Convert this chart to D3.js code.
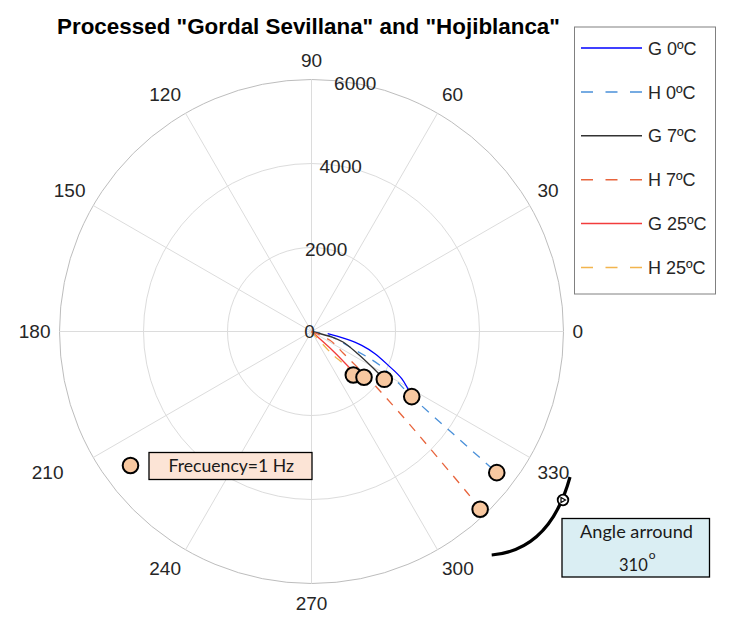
<!DOCTYPE html>
<html>
<head>
<meta charset="utf-8">
<script src="https://cdn.jsdelivr.net/npm/d3@7"></script>
<style>
  html, body { margin: 0; padding: 0; background: #ffffff; }
  svg { display: block; }
</style>
</head>
<body>
<svg id="chart" width="741" height="630"></svg>
<script>
// ---------------- DATA ----------------
const chartTitle = 'Processed "Gordal Sevillana" and "Hojiblanca"';
const thetaTicks = [0, 30, 60, 90, 120, 150, 180, 210, 240, 270, 300, 330];
const rTicks = [0, 2000, 4000, 6000];
const seriesNames = ["G 0ºC", "H 0ºC", "G 7ºC", "H 7ºC", "G 25ºC", "H 25ºC"];
const seriesColors = ["#0000FF", "#4A90D9", "#333333", "#E8643C", "#F23C3C", "#F2B54E"];
const seriesDashed = [false, true, false, true, false, true];

// each series: [angle (deg), magnitude]
const g0 = [[352.3, 389], [347.9, 816], [344.6, 1240], [340.7, 1602], [336.2, 1998], [332.4, 2424], [327.0, 2846]];
const h0 = [[0, 0], [346.3, 453], [337.0, 1125], [333.4, 1869], [327.0, 2846], [324.1, 4186], [322.7, 5545]];
const g7 = [[0, 0], [344.4, 531], [341.6, 791], [334.2, 1230], [329.9, 1638], [326.7, 2074]];
const h7 = [[0, 0], [334.6, 488], [325.6, 918], [320.7, 1698], [318.5, 2343], [316.5, 3262], [315.0, 4271], [314.0, 5338], [313.5, 5833]];
const g25 = [[0, 0], [318.0, 700], [316.2, 1326]];
const h25 = [[0, 0], [312.3, 705], [314.8, 1140], [313.9, 1436]];

// 1 Hz markers
const markerTheta = [313.9, 318.9, 326.7, 327.0, 322.7, 313.5];
const markerR = [1436, 1659, 2074, 2846, 5545, 5833];

const annFreq = "Frecuency=1 Hz";
const annAngle1 = "Angle arround";
const annAngle2 = "310";
// --------------------------------------

const allSeries = [g0, h0, g7, h7, g25, h25];
const svg = d3.select("#chart");
const cx = 311.5, cy = 331.5, R = 252;
const rScale = d3.scaleLinear().domain([0, 6000]).range([0, R]);
const toRad = d => d * Math.PI / 180;
const px = (t, v) => cx + rScale(v) * Math.cos(toRad(t));
const py = (t, v) => cy - rScale(v) * Math.sin(toRad(t));

const FONT = "'Liberation Sans', Arial, Helvetica, sans-serif";
const TXT = "#262626";

// title
svg.append("text")
  .attr("x", 308.5).attr("y", 33.5)
  .attr("text-anchor", "middle")
  .attr("font-family", FONT).attr("font-weight", "bold")
  .attr("font-size", 22.4).attr("fill", "#000")
  .text(chartTitle);

const g = svg.append("g").attr("transform", `translate(${cx},${cy})`);

// rings
g.selectAll("circle.ring").data(rTicks.filter(d => d > 0)).join("circle")
  .attr("class", "ring")
  .attr("r", d => rScale(d))
  .attr("fill", "none")
  .attr("stroke", d => d === 6000 ? "#bdbdbd" : "#dcdcdc")
  .attr("stroke-width", 1);

// spokes
g.selectAll("line.spoke").data(thetaTicks).join("line")
  .attr("class", "spoke")
  .attr("x1", 0).attr("y1", 0)
  .attr("x2", d => rScale(6000) * Math.cos(toRad(d)))
  .attr("y2", d => -rScale(6000) * Math.sin(toRad(d)))
  .attr("stroke", "#dcdcdc").attr("stroke-width", 1);

// theta labels
const Ra = 261, capH = 13.6;
thetaTicks.forEach(t => {
  const c = Math.cos(toRad(t)), s = Math.sin(toRad(t));
  const ax = cx + Ra * c, ay = cy - Ra * s;
  const anchor = c > 0.1 ? "start" : (c < -0.1 ? "end" : "middle");
  let by;
  if (s > 0.1) by = ay - 4;
  else if (s < -0.1) by = ay + 3.6 + capH;
  else by = ay + capH / 2;
  const shift = t === 210 ? -22 : 0;
  svg.append("text")
    .attr("x", ax + shift).attr("y", by)
    .attr("text-anchor", anchor)
    .attr("font-family", FONT).attr("font-size", 19).attr("fill", TXT)
    .text(t);
});

// r labels at 80°
rTicks.forEach(v => {
  svg.append("text")
    .attr("x", px(80, v) - (v === 0 ? 2 : 0)).attr("y", py(80, v) + 6.8)
    .attr("text-anchor", "middle")
    .attr("font-family", FONT).attr("font-size", 19).attr("fill", TXT)
    .text(v);
});

// lines
const line = d3.lineRadial()
  .angle(d => toRad(90 - d[0]))
  .radius(d => rScale(d[1]))
  .curve(d3.curveCatmullRom.alpha(0.5));

allSeries.forEach((s, i) => {
  g.append("path")
    .attr("d", line(s))
    .attr("fill", "none")
    .attr("stroke", seriesColors[i])
    .attr("stroke-width", 1.3)
    .attr("stroke-dasharray", seriesDashed[i] ? "9,8" : null);
});

// markers
const MFILL = "#F8C8A0";
g.selectAll("circle.mk").data(markerTheta.map((t, i) => [t, markerR[i]])).join("circle")
  .attr("class", "mk")
  .attr("cx", d => rScale(d[1]) * Math.cos(toRad(d[0])))
  .attr("cy", d => -rScale(d[1]) * Math.sin(toRad(d[0])))
  .attr("r", 7.8)
  .attr("fill", MFILL).attr("stroke", "#000").attr("stroke-width", 2);

// legend
const lg = svg.append("g");
lg.append("rect").attr("x", 574.5).attr("y", 27).attr("width", 141).attr("height", 267)
  .attr("fill", "#fff").attr("stroke", "#808080").attr("stroke-width", 1);
seriesNames.forEach((n, i) => {
  const y = 48 + i * 43.9;
  lg.append("line").attr("x1", 581).attr("x2", 642).attr("y1", y).attr("y2", y)
    .attr("stroke", seriesColors[i]).attr("stroke-width", 1.5)
    .attr("stroke-dasharray", seriesDashed[i] ? "12,12.5" : null);
  lg.append("text").attr("x", 648).attr("y", y + 6.6)
    .attr("font-family", FONT).attr("font-size", 18).attr("fill", TXT)
    .text(n);
});

// annotation: frequency
const AFONT = "Lato, 'Open Sans', sans-serif";
svg.append("circle").attr("cx", 130.5).attr("cy", 465.5).attr("r", 7.8)
  .attr("fill", MFILL).attr("stroke", "#000").attr("stroke-width", 2);
svg.append("rect").attr("x", 149).attr("y", 452.5).attr("width", 163).attr("height", 27)
  .attr("fill", "#FCE4D6").attr("stroke", "#000").attr("stroke-width", 1.3);
svg.append("text").attr("x", 168.5).attr("y", 472.3)
  .attr("font-family", AFONT).attr("font-size", 16.5).attr("fill", "#1a1a1a")
  .attr("textLength", 125.5).attr("lengthAdjust", "spacingAndGlyphs")
  .text(annFreq);

// annotation: angle arc
svg.append("path")
  .attr("d", "M491.7,555 Q550,550 570,477")
  .attr("fill", "none").attr("stroke", "#000").attr("stroke-width", 3.2);
svg.append("circle").attr("cx", 563).attr("cy", 500).attr("r", 5.3)
  .attr("fill", "#fff").attr("stroke", "#000").attr("stroke-width", 1.8);
svg.append("path").attr("d", "M561,497.5 L565.5,500 L561,502.5 Z")
  .attr("fill", "none").attr("stroke", "#000").attr("stroke-width", 1.2);

svg.append("rect").attr("x", 562).attr("y", 518.5).attr("width", 147.5).attr("height", 58.5)
  .attr("fill", "#DAEEF3").attr("stroke", "#000").attr("stroke-width", 1.3);
svg.append("text").attr("x", 580).attr("y", 538)
  .attr("font-family", AFONT).attr("font-size", 16.5).attr("fill", "#1a1a1a")
  .attr("textLength", 113).attr("lengthAdjust", "spacingAndGlyphs")
  .text(annAngle1);
const t2 = svg.append("text").attr("x", 619).attr("y", 570.5)
  .attr("font-family", AFONT).attr("font-size", 16.5).attr("fill", "#1a1a1a");
t2.append("tspan").text(annAngle2);
t2.append("tspan").attr("dx", 1).attr("dy", -12).attr("font-size", 12).text("o");
</script>
</body>
</html>
